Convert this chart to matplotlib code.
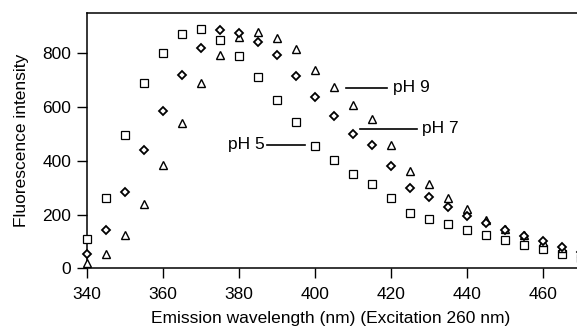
import numpy as np
import matplotlib
matplotlib.use("Agg")
import matplotlib.pyplot as plt

plt.rcParams['font.family'] = ['Liberation Sans', 'DejaVu Sans']

wavelength = [340, 345, 350, 355, 360, 365, 370, 375, 380, 385, 390, 395, 400,
              405, 410, 415, 420, 425, 430, 435, 440, 445, 450, 455, 460, 465, 470]

ph5 = [110, 263, 497, 690, 801, 870, 889, 851, 789, 710, 625, 544, 455,
       402, 350, 315, 262, 207, 185, 164, 141, 125, 104, 86, 70, 55, 40]
ph7 = [55, 144, 284, 439, 587, 718, 820, 886, 876, 842, 795, 717, 637,
       567, 501, 458, 380, 297, 265, 228, 193, 169, 141, 119, 102, 80, 60]
ph9 = [20, 52, 123, 238, 383, 542, 690, 793, 860, 880, 857, 817, 737,
       675, 607, 557, 460, 361, 313, 263, 222, 181, 148, 125, 98, 77, 58]

xticks = [340, 360, 380, 400, 420, 440, 460]
yticks = [0, 200, 400, 600, 800]

fig = plt.figure(figsize=(5.77, 3.29), dpi=100)
ax = fig.add_axes([0.1503, 0.1845, 0.8497, 0.777])

ax.plot(wavelength, ph5, linestyle='none', marker='s', markersize=6,
        markerfacecolor='white', markeredgecolor='black', markeredgewidth=0.9,
        clip_on=False, zorder=3)
ax.plot(wavelength, ph9, linestyle='none', marker='^', markersize=5.4,
        markerfacecolor='white', markeredgecolor='black', markeredgewidth=1.0,
        clip_on=False, zorder=3)
ax.plot(wavelength, ph7, linestyle='none', marker='D', markersize=3.9,
        markerfacecolor='white', markeredgecolor='black', markeredgewidth=1.3,
        clip_on=False, zorder=3)

# label lines
ax.plot([408.2, 418.9], [672, 672], color='black', lw=1.2)
ax.text(420.5, 672, "pH 9", ha='left', va='center', fontsize=12.5)
ax.plot([411.8, 426.8], [520, 520], color='black', lw=1.2)
ax.text(428.2, 520, "pH 7", ha='left', va='center', fontsize=12.5)
ax.plot([387.4, 397.4], [460, 460], color='black', lw=1.2)
ax.text(386.8, 460, "pH 5", ha='right', va='center', fontsize=12.5)

ax.set_xlim(340, 469)
ax.set_ylim(0, 951)
ax.set_xticks(xticks)
ax.set_yticks(yticks)
ax.spines['right'].set_visible(False)
for s in ['top', 'left', 'bottom']:
    ax.spines[s].set_linewidth(1.1)
ax.tick_params(direction='out', length=7.2, width=1.0, labelsize=12.5, pad=4)
ax.tick_params(axis='x', pad=6.5)

ax.set_xlabel("Emission wavelength (nm) (Excitation 260 nm)", fontsize=12.5)
ax.set_ylabel("Fluorescence intensity", fontsize=12.5)
ax.xaxis.set_label_coords(0.498, -0.168)
ax.yaxis.set_label_coords(-0.118, 0.5)

fig.savefig("out.png", dpi=100)
